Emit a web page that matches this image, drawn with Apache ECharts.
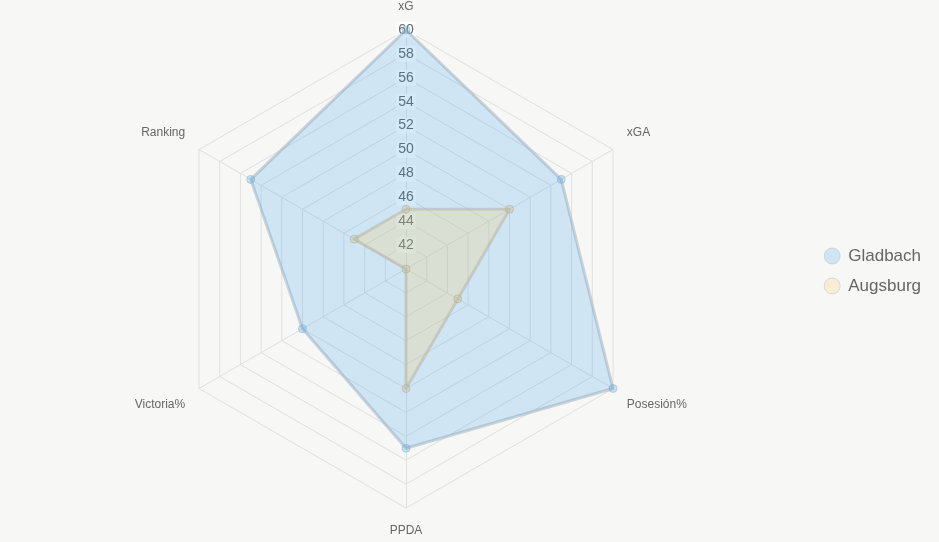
<!DOCTYPE html>
<html>
<head>
<meta charset="utf-8">
<script src="https://cdn.jsdelivr.net/npm/echarts@6/dist/echarts.min.js"></script>
<style>
  html, body { margin: 0; padding: 0; background: #f7f7f5; }
  #chart { width: 939px; height: 542px; }
</style>
</head>
<body>
<div id="chart"></div>
<script>
// indicadores del radar, en sentido horario desde arriba
const indicators = ['xG', 'xGA', 'Posesión%', 'PPDA', 'Victoria%', 'Ranking'];
const teams = ['Gladbach', 'Augsburg'];
const gladbach = [60, 55, 60, 55, 50, 55];
const augsburg = [45, 50, 45, 50, 40, 45];
const scaleMin = 40;
const scaleMax = 60;

const fills = ['rgba(54,162,235,0.2)', 'rgba(255,206,86,0.2)'];
const points = ['rgba(54,162,235,0.25)', 'rgba(200,190,140,0.35)'];

// echarts dibuja el radar en sentido antihorario -> invertir el orden
const order = [0, 5, 4, 3, 2, 1];
const reorder = arr => order.map(i => arr[i]);

const upper = ['xGA', 'Ranking'];
const lower = ['Posesión%', 'Victoria%'];

const chart = echarts.init(document.getElementById('chart'));

const option = {
    backgroundColor: '#f7f7f5',
    legend: {
        orient: 'vertical',
        right: 13,
        top: 'middle',
        icon: 'circle',
        itemWidth: 16,
        itemHeight: 16,
        itemGap: 13,
        textStyle: { fontSize: 17, color: '#666', fontFamily: 'Liberation Sans, Arial', padding: [0, 0, 0, 3] },
        data: teams.map((t, i) => ({
            name: t,
            itemStyle: { color: fills[i], borderColor: 'rgba(180,190,200,0.5)', borderWidth: 1 }
        }))
    },
    radar: {
        center: [406, 269],
        radius: 239,
        startAngle: 90,
        splitNumber: 10,
        shape: 'polygon',
        indicator: reorder(indicators).map((n, i) => {
            const ind = { name: n, min: scaleMin, max: scaleMax };
            if (i === 0) {
                ind.axisLabel = {
                    show: true,
                    showMinLabel: false,
                    color: '#666',
                    fontSize: 14,
                    fontFamily: 'Liberation Sans, Arial',
                    backgroundColor: 'rgba(255,255,255,0.75)',
                    padding: [1, 2],
                    align: 'center',
                    margin: 0
                };
            }
            return ind;
        }),
        axisName: {
            color: '#666',
            fontSize: 12,
            fontFamily: 'Liberation Sans, Arial',
            formatter: function (name) {
                if (upper.indexOf(name) >= 0) return '{t|' + name + '}\n{gap|}';
                if (lower.indexOf(name) >= 0) return '{gap|}\n{t|' + name + '}';
                return '{t|' + name + '}';
            },
            rich: {
                t: { color: '#666', fontSize: 12, fontFamily: 'Liberation Sans, Arial', lineHeight: 14 },
                gap: { lineHeight: 17, fontSize: 1 }
            }
        },
        nameGap: 16,
        axisLabel: { show: false },
        axisTick: { show: false },
        axisLine: { lineStyle: { color: '#e0e0e0', width: 1 } },
        splitLine: { lineStyle: { color: '#e0e0e0', width: 1 } },
        splitArea: { show: false }
    },
    series: [{
        type: 'radar',
        symbol: 'circle',
        symbolSize: 8,
        data: [
            {
                name: teams[0],
                value: reorder(gladbach),
                lineStyle: { color: 'rgba(175,185,195,0.6)', width: 3 },
                itemStyle: { color: points[0], borderColor: 'rgba(140,170,200,0.5)', borderWidth: 1 },
                areaStyle: { color: fills[0], opacity: 1 }
            },
            {
                name: teams[1],
                value: reorder(augsburg),
                lineStyle: { color: 'rgba(175,178,175,0.55)', width: 3 },
                itemStyle: { color: points[1], borderColor: 'rgba(170,170,150,0.5)', borderWidth: 1 },
                areaStyle: { color: fills[1], opacity: 1 }
            }
        ]
    }]
};

chart.setOption(option);
</script>
</body>
</html>
